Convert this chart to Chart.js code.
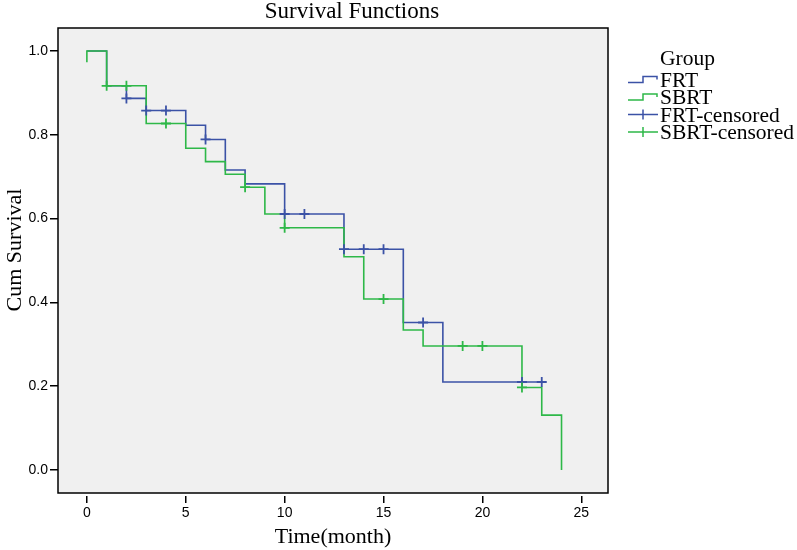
<!DOCTYPE html>
<html>
<head>
<meta charset="utf-8">
<script src="https://cdn.jsdelivr.net/npm/chart.js@4.4.1/dist/chart.umd.min.js"></script>
<style>
  body { margin: 0; background: #fff; }
</style>
</head>
<body>
<canvas id="km" width="797" height="550"></canvas>
<script>
// FRT group: step points (month, cum survival) and censored marks
const frtTime = [0, 1, 2, 3, 5, 6, 7, 8, 10, 13, 16, 18, 23];
const frtSurv = [1.0, 0.917, 0.887, 0.858, 0.823, 0.789, 0.716, 0.683, 0.611, 0.527, 0.352, 0.210, 0.210];
const frtCensTime = [2, 3, 4, 6, 10, 11, 13, 14, 15, 17, 22, 23];
const frtCensSurv = [0.887, 0.858, 0.858, 0.789, 0.611, 0.611, 0.527, 0.527, 0.527, 0.352, 0.210, 0.210];

// SBRT group
const sbrtTime = [0, 0, 1, 3, 5, 6, 7, 8, 9, 10, 13, 14, 16, 17, 22, 23, 24];
const sbrtSurv = [0.973, 1.0, 0.917, 0.827, 0.768, 0.736, 0.706, 0.675, 0.611, 0.578, 0.509, 0.408, 0.334, 0.296, 0.197, 0.131, 0.0];
const sbrtCensTime = [1, 2, 4, 8, 10, 15, 19, 20, 22];
const sbrtCensSurv = [0.917, 0.917, 0.827, 0.675, 0.578, 0.408, 0.296, 0.296, 0.197];

const xTicks = [0, 5, 10, 15, 20, 25];
const yTicks = [0.0, 0.2, 0.4, 0.6, 0.8, 1.0];

const BLUE = '#3b52a6';
const GREEN = '#2eb848';
const SERIF = '"Liberation Serif", "Times New Roman", serif';
const SANS = '"Liberation Sans", Arial, sans-serif';

const toPoints = (xs, ys) => xs.map((x, i) => ({ x: x, y: ys[i] }));

// grey plot background + black frame, like the SPSS output
const framePlugin = {
  id: 'frame',
  beforeDraw(chart) {
    const { ctx, chartArea: a } = chart;
    ctx.save();
    ctx.fillStyle = '#f0f0f0';
    ctx.fillRect(a.left, a.top, a.right - a.left, a.bottom - a.top);
    ctx.restore();
  },
  afterDraw(chart) {
    const { ctx, chartArea: a } = chart;
    ctx.save();
    ctx.strokeStyle = '#000';
    ctx.lineWidth = 1.5;
    ctx.strokeRect(a.left, a.top, a.right - a.left, a.bottom - a.top);
    ctx.fillStyle = '#000';
    ctx.textBaseline = 'alphabetic';
    // chart title (SPSS puts it a bit right of the frame centre)
    ctx.font = '23px ' + SERIF;
    ctx.textAlign = 'center';
    ctx.fillText('Survival Functions', 352, 18);
    // y axis title, sits a little above the frame centre
    ctx.font = '22px ' + SERIF;
    ctx.translate(21, 250);
    ctx.rotate(-Math.PI / 2);
    ctx.fillText('Cum Survival', 0, 0);
    ctx.restore();
  }
};

// legend in the right margin: "Group" header, step icons and cross icons
const groupLegend = {
  id: 'groupLegend',
  afterDraw(chart) {
    const { ctx } = chart;
    const x0 = 628, tx = 660;
    ctx.save();
    ctx.font = '21.5px ' + SERIF;
    ctx.fillStyle = '#000';
    ctx.textBaseline = 'alphabetic';
    ctx.fillText('Group', tx, 65);
    const rows = [86.5, 104, 121.5, 139];
    chart.data.datasets.forEach(ds => {
      const base = rows[ds.legendRow];
      const mid = base - 7;
      ctx.strokeStyle = ds.borderColor;
      ctx.lineWidth = 1.5;
      ctx.beginPath();
      if (ds.censored) {
        ctx.moveTo(x0, mid);
        ctx.lineTo(x0 + 30, mid);
        ctx.moveTo(x0 + 15, mid - 5);
        ctx.lineTo(x0 + 15, mid + 5);
      } else {
        ctx.moveTo(x0, mid + 3);
        ctx.lineTo(x0 + 15, mid + 3);
        ctx.lineTo(x0 + 15, mid - 3);
        ctx.lineTo(x0 + 29, mid - 3);
        ctx.lineTo(x0 + 29, mid);
      }
      ctx.stroke();
      ctx.fillText(ds.label, tx, base);
    });
    ctx.restore();
  }
};

new Chart(document.getElementById('km'), {
  type: 'line',
  data: {
    datasets: [
      {
        label: 'FRT', legendRow: 0,
        data: toPoints(frtTime, frtSurv),
        borderColor: BLUE, borderWidth: 1.6,
        stepped: 'before', pointRadius: 0, fill: false, order: 3
      },
      {
        label: 'SBRT', legendRow: 1,
        data: toPoints(sbrtTime, sbrtSurv),
        borderColor: GREEN, borderWidth: 1.6,
        stepped: 'before', pointRadius: 0, fill: false, order: 2
      },
      {
        label: 'FRT-censored', legendRow: 2, censored: true,
        data: toPoints(frtCensTime, frtCensSurv),
        borderColor: BLUE, showLine: false,
        pointStyle: 'cross', pointRadius: 5, pointBorderWidth: 1.8, order: 1
      },
      {
        label: 'SBRT-censored', legendRow: 3, censored: true,
        data: toPoints(sbrtCensTime, sbrtCensSurv),
        borderColor: GREEN, showLine: false,
        pointStyle: 'cross', pointRadius: 5, pointBorderWidth: 1.8, order: 0
      }
    ]
  },
  options: {
    responsive: false,
    animation: false,
    layout: { padding: { top: 28, right: 189 } },
    plugins: {
      legend: { display: false },
      tooltip: { enabled: false },
      title: { display: false }
    },
    scales: {
      x: {
        type: 'linear',
        min: -1.46, max: 26.35,
        afterBuildTicks: axis => { axis.ticks = xTicks.map(v => ({ value: v })); },
        afterFit: axis => { axis.height = 57; },
        grid: { drawOnChartArea: false, drawTicks: true, tickLength: 10, color: '#000', lineWidth: 1.5 },
        // invisible border only to leave a small gap above the tick marks
        border: { display: true, color: 'rgba(0,0,0,0)', width: 5 },
        ticks: { color: '#000', padding: 2, font: { family: SANS, size: 14 } },
        title: {
          display: true, text: 'Time(month)', color: '#000',
          font: { family: SERIF, size: 22 }, padding: { top: 0, bottom: 0 }
        }
      },
      y: {
        type: 'linear',
        min: -0.055, max: 1.055,
        afterBuildTicks: axis => { axis.ticks = yTicks.map(v => ({ value: v })); },
        afterFit: axis => { axis.width = 58; },
        grid: { drawOnChartArea: false, drawTicks: true, tickLength: 8, color: '#000', lineWidth: 1.5 },
        border: { display: false },
        ticks: { color: '#000', padding: 2, font: { family: SANS, size: 14 }, callback: v => v.toFixed(1) },
        title: { display: false }
      }
    }
  },
  plugins: [framePlugin, groupLegend]
});
</script>
</body>
</html>
